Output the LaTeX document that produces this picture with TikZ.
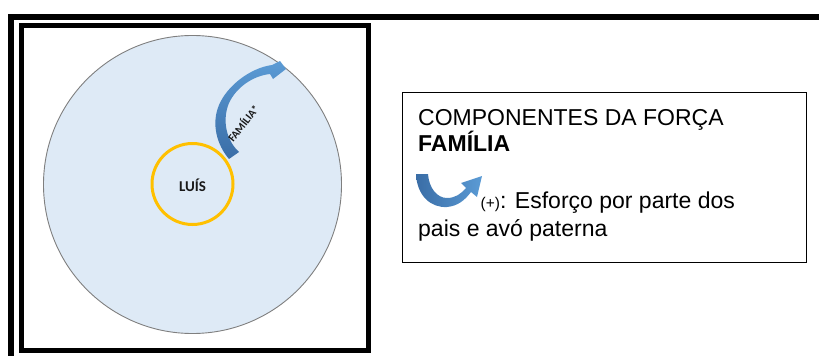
\documentclass[tikz,border=0pt]{standalone}
\usepackage{fontspec}
\setmainfont{Liberation Sans}
\newfontfamily\calib{Carlito}
\definecolor{envblue}{HTML}{DEEAF6}
\definecolor{envline}{HTML}{7F7F7F}
\definecolor{luisyellow}{HTML}{FFC000}
\definecolor{arrowdark}{HTML}{3A6DA6}
\definecolor{arrowlight}{HTML}{5B9BD5}
\begin{document}
\begin{tikzpicture}[x=1pt,y=-1pt,
  legendtext/.style={anchor=base west, inner sep=0pt, font=\fontsize{23}{27}\selectfont},
  framebar/.style={line width=6pt, line join=miter},
  innerframe/.style={line width=5pt, draw=black},
  blockarrow/.style={draw=none}]
\useasboundingbox (0,0) rectangle (819,356);
% outer frame (open to the right and bottom)
\draw[framebar] (819,17) -- (11,17) -- (11,356);
% inner framed box
\draw[innerframe] (21.5,25.5) rectangle (368,350.5);
% environment circle
\node[circle, draw=envline, line width=0.9pt, fill=envblue, minimum size=298pt, inner sep=0pt] (env) at (192.5,184.5) {};
% Luis circle
\node[circle, draw=luisyellow, line width=3pt, minimum size=81pt, inner sep=0pt] (luis) at (192.5,184) {};
\node[anchor=base, inner sep=0pt, font=\calib\bfseries\fontsize{15}{15}\selectfont, text=black!90] (luislabel) at (192.5,191.5) {LUÍS};
% curved family arrow
\shade[blockarrow, top color=arrowlight, bottom color=arrowdark]
  (229,159) .. controls (217,145) and (211,124) .. (219,105)
  .. controls (227,86) and (250,68) .. (272,65)
  -- (280,61) -- (286,69) -- (273,79) -- (270,74)
  .. controls (252,76) and (236,88) .. (229,103)
  .. controls (222,120) and (226,140) .. (239,152) -- cycle;
\node[rotate=52, inner sep=0pt, font=\calib\bfseries\fontsize{11}{11}\selectfont, text=black!90] (famlabel) at (243,123) {FAMÍLIA*};
% legend box
\node[draw=black, line width=1pt, minimum width=404pt, minimum height=170pt, inner sep=0pt] (legend) at (604,177) {};
\node[legendtext] (l1) at (418,125.7) {COMPONENTES DA FORÇA};
\node[legendtext] (l2) at (418,151.7) {\bfseries FAMÍLIA};
\shade[blockarrow, left color=arrowdark, right color=arrowlight]
  (416,174) .. controls (417,196) and (431,208) .. (447,207)
  .. controls (458,206) and (465,200) .. (471,192)
  -- (477,197) -- (482,176) -- (461,183) -- (466,188)
  .. controls (461,194) and (455,198) .. (447,198)
  .. controls (437,198) and (429,188) .. (428,174) -- cycle;
\node[legendtext] (l3) at (480.5,208) {{\fontsize{15.5}{16}\selectfont(+)}: Esforço por parte dos};
\node[legendtext] (l4) at (418,236) {pais e avó paterna};
\end{tikzpicture}
\end{document}
